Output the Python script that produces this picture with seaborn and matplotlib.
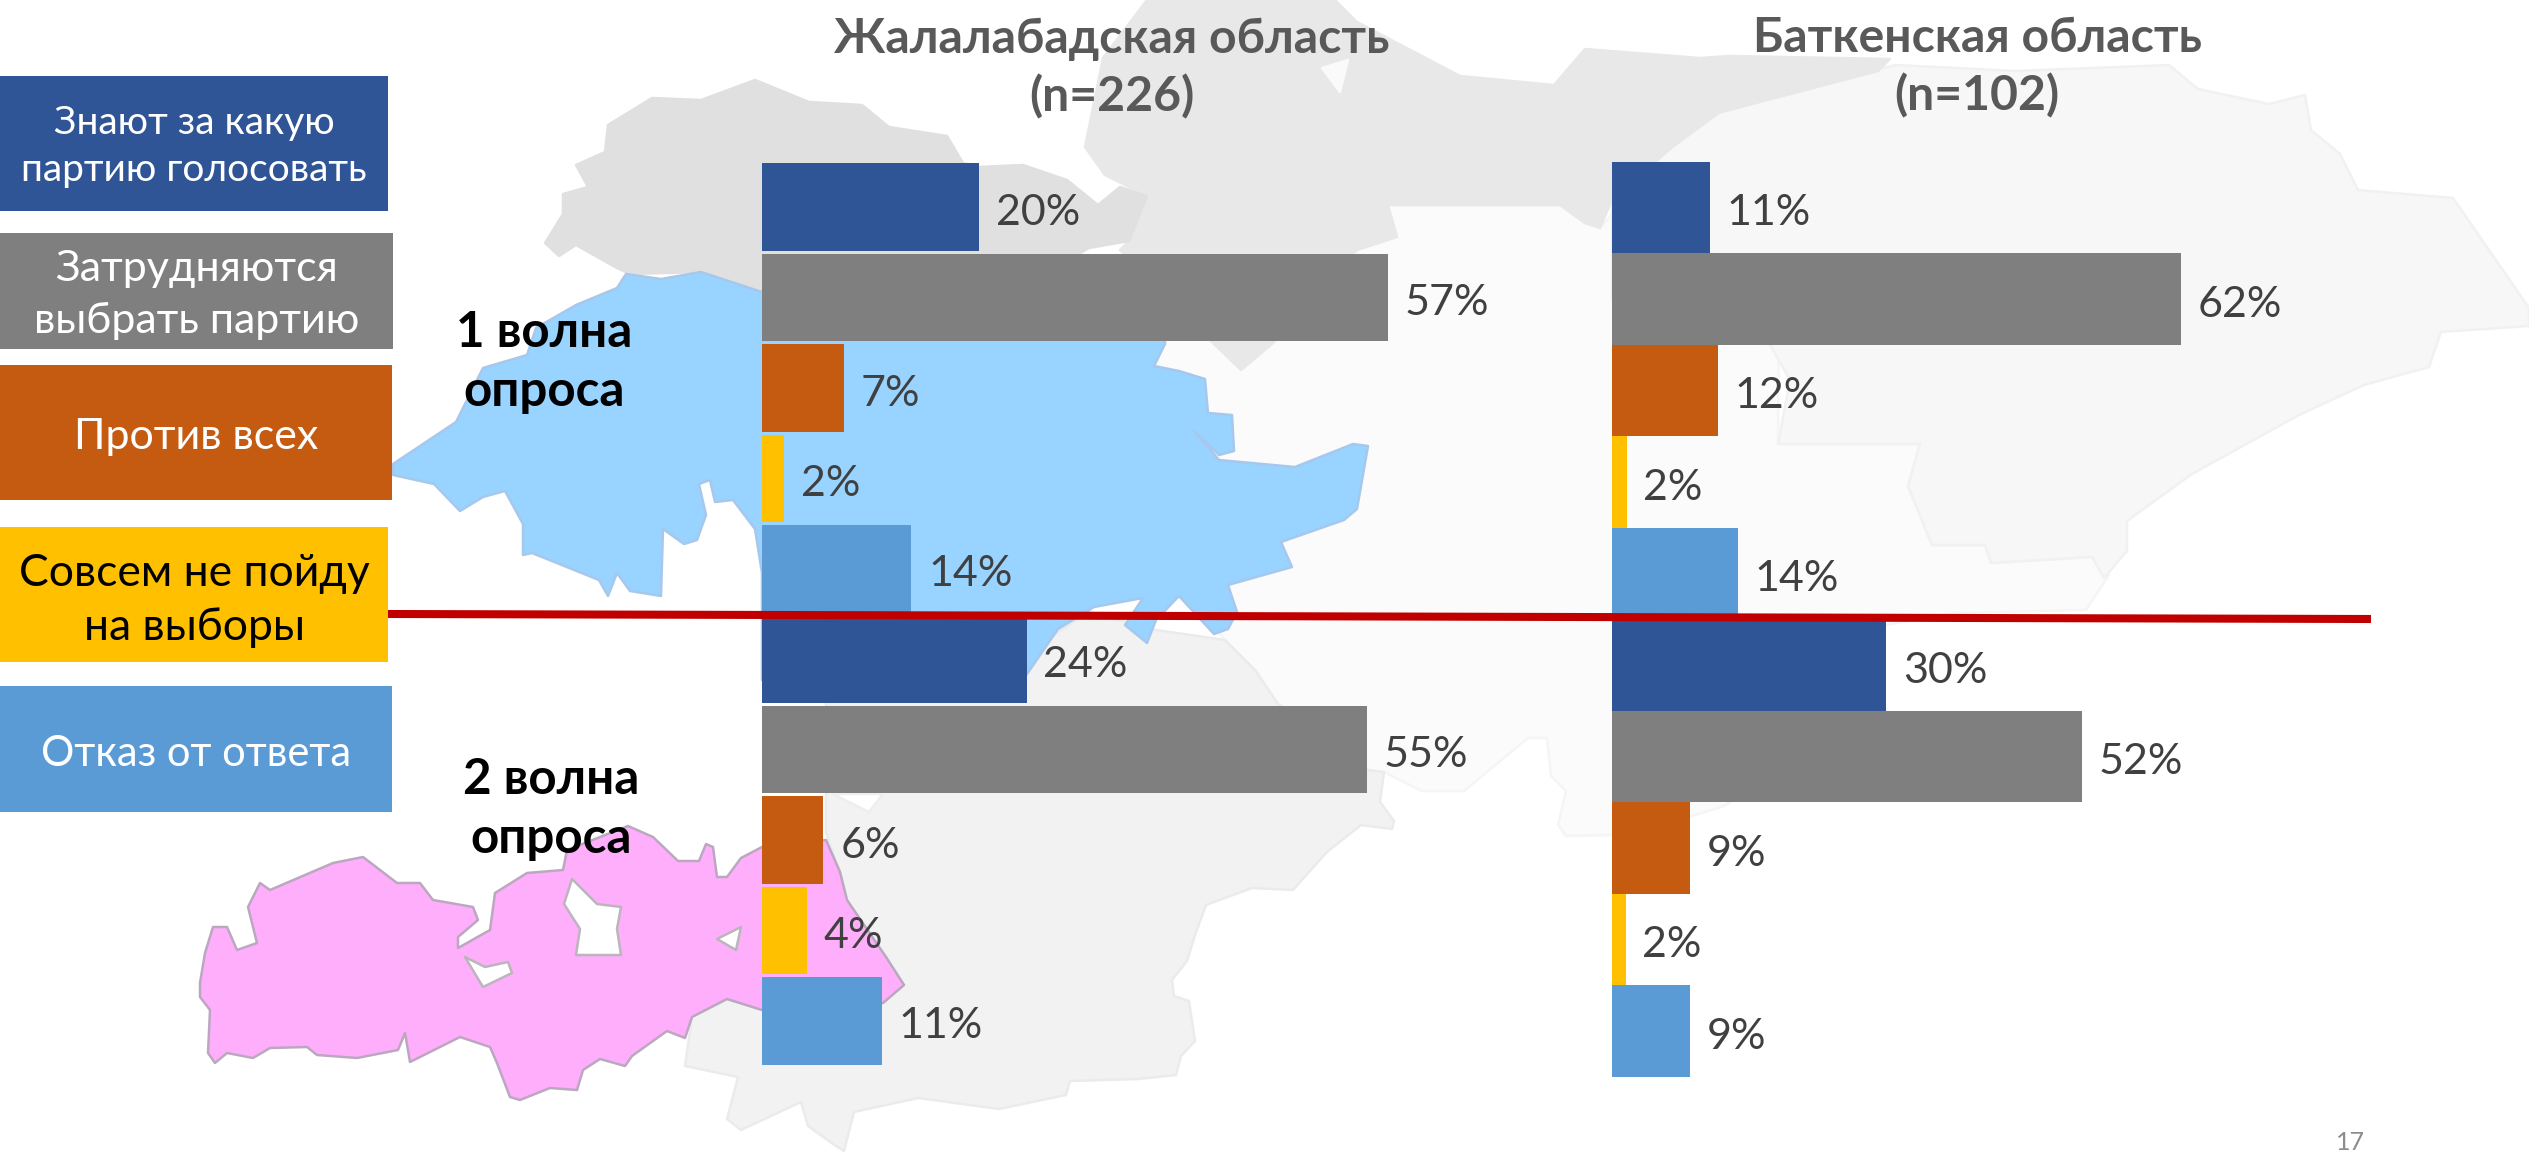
import matplotlib
matplotlib.use("Agg")
import matplotlib.pyplot as plt
import pandas as pd
import seaborn as sns
from matplotlib.patches import Polygon, Rectangle

W, H = 2529, 1154

answers = ["Знают за какую\nпартию голосовать", "Затрудняются\nвыбрать партию", "Против всех",
           "Совсем не пойду\nна выборы", "Отказ от ответа"]
answer_colors = ["#2F5597", "#7F7F7F", "#C55A11", "#FFC000", "#5B9BD5"]
answer_text_colors = ["white", "white", "white", "black", "white"]

jalal_wave1 = [19.8, 57.0, 7.5, 2.0, 13.6]
jalal_wave2 = [24.1, 55.1, 5.6, 4.1, 10.9]
batken_wave1 = [10.7, 62.0, 11.5, 1.6, 13.7]
batken_wave2 = [29.9, 51.2, 8.5, 1.5, 8.5]
jalal_labels = ["20%", "57%", "7%", "2%", "14%", "24%", "55%", "6%", "4%", "11%"]
batken_labels = ["11%", "62%", "12%", "2%", "14%", "30%", "52%", "9%", "2%", "9%"]

title_jalal = "Жалалабадская область\n(n=226)"
title_batken = "Баткенская область\n(n=102)"
wave_names = ["1 волна\nопроса", "2 волна\nопроса"]

# decorative background map outlines (pixel space)
talas = [(545,243),(563,214),(563,194),(588,187),(576,165),(605,152),(608,125),(652,98),(701,100),(755,80),(809,102),(862,105),(889,127),(947,136),(963,163),(978,167),(1023,165),(1067,180),(1098,205),(1120,187),(1147,196),(1129,241),(1089,248),(1000,300),(762,293),(701,272),(630,274),(617,268),(576,245),(559,256)]
chui = [(1085,147),(1103,58),(1147,0),(1335,0),(1357,22),(1460,76),(1554,85),(1585,49),(1700,58),(1730,56),(1890,59),(1878,71),(1718,113),(1671,148),(1612,200),(1600,228),(1585,223),(1560,205),(1536,205),(1388,205),(1397,237),(1357,250),(1272,344),(1241,370),(1214,344),(1120,250),(1129,241),(1147,196),(1105,175)]
naryn = [(1165,250),(1388,205),(1536,205),(1560,205),(1585,223),(1600,228),(1671,148),(1780,200),(1778,444),(1920,444),(1908,486),(1932,545),(1985,545),(1991,563),(2092,557),(2109,575),(2086,610),(1955,613),(1886,625),(1800,760),(1724,806),(1689,817),(1611,835),(1566,836),(1558,825),(1566,791),(1551,776),(1547,738),(1528,738),(1464,791),(1422,791),(1384,772),(1367,770),(1278,704),(1255,670),(1225,640),(1100,500)]
issyk = [(1671,148),(1736,101),(1896,65),(2015,71),(2169,65),(2198,89),(2269,104),(2305,95),(2311,130),(2340,154),(2358,190),(2453,198),(2529,308),(2529,326),(2441,332),(2429,367),(2364,385),(2299,415),(2192,474),(2127,521),(2127,551),(2104,578),(2092,557),(1991,563),(1985,545),(1932,545),(1908,486),(1920,444),(1778,444),(1790,380),(1770,345),(1700,300),(1612,300),(1612,200)]
osh = [(1049,638),(1089,612),(1156,630),(1225,640),(1255,670),(1278,704),(1367,770),(1384,772),(1380,802),(1394,821),(1392,829),(1361,825),(1327,852),(1293,890),(1252,888),(1206,905),(1195,935),(1187,961),(1172,980),(1174,996),(1189,1001),(1195,1041),(1181,1056),(1176,1075),(1138,1079),(1070,1081),(1066,1095),(999,1109),(918,1098),(854,1112),(844,1151),(833,1144),(808,1126),(801,1102),(741,1130),(727,1119),(738,1077),(685,1066),(692,1017),(727,999),(762,1010),(883,1003),(904,985),(886,957),(847,900),(840,872),(826,833),(826,700)]
osh_notch = [(833,794),(869,812),(883,794)]
chui_hole = [(1322,68),(1348,60),(1340,92)]
blue_region = [(393,464),(456,422),(483,368),(527,355),(536,328),(576,305),(617,288),(626,274),(661,279),(701,272),(762,292),(1165,300),(1165,344),(1154,366),(1179,371),(1205,379),(1208,413),(1232,415),(1234,451),(1219,455),(1194,431),(1219,460),(1295,467),(1353,444),(1368,446),(1357,509),(1344,520),(1281,542),(1292,567),(1228,585),(1237,612),(1228,629),(1214,634),(1179,596),(1156,620),(1147,643),(1125,625),(1143,598),(1094,607),(1058,629),(1027,674),(762,680),(762,573),(755,529),(733,500),(715,502),(710,480),(699,484),(706,515),(697,540),(684,544),(663,529),(661,596),(630,591),(617,573),(608,596),(599,580),(532,553),(523,555),(523,524),(505,491),(483,497),(460,511),(434,484),(393,475)]
pink_region = [(200,983),(205,953),(213,927),(227,927),(237,950),(257,943),(248,907),(260,883),(270,890),(333,863),(363,857),(397,883),(420,883),(433,900),(473,907),(478,920),(458,937),(458,948),(490,930),(495,893),(527,873),(563,870),(567,850),(628,826),(653,837),(678,861),(699,861),(706,844),(713,847),(717,877),(727,877),(741,858),(762,847),(826,840),(840,872),(847,900),(886,957),(904,985),(883,1003),(762,1010),(727,999),(692,1017),(685,1038),(667,1031),(632,1056),(625,1066),(600,1059),(583,1070),(577,1090),(550,1088),(520,1100),(510,1097),(497,1063),(490,1047),(460,1037),(410,1062),(405,1033),(398,1050),(357,1058),(317,1055),(307,1047),(270,1048),(253,1058),(227,1053),(215,1063),(208,1053),(210,1010),(200,997)]
pink_holes = [[(465,957),(483,987),(512,973),(508,962),(485,967)],
              [(572,879),(564,904),(580,929),(576,955),(621,955),(617,929),(621,907),(597,904)],
              [(717,939),(741,927),(736,950)]]

legend_boxes = [(0,76,388,135),(0,233,393,116),(0,365,392,135),(0,527,388,135),(0,686,392,126)]
legend_sizes = [28, 31, 31, 32, 30]
legend_spacing = [1.39, 1.45, 1.4, 1.41, 1.4]
legend_shift = [3, 4, 5, 6, 5]

sns.set_style("white")
plt.rcParams["font.family"] = ["Lato", "Open Sans", "DejaVu Sans"]

fig = plt.figure(figsize=(W/100, H/100), dpi=100, facecolor="white")


def px_axes(x0, y0, x1, y1, **kw):
    ax = fig.add_axes([x0/W, 1-y1/H, (x1-x0)/W, (y1-y0)/H], **kw)
    ax.patch.set_alpha(0)
    return ax


bg = px_axes(0, 0, W, H, zorder=0)
bg.set_xlim(0, W); bg.set_ylim(H, 0); bg.axis("off")
for pts, fc, ec in [(naryn, "#FBFBFB", "#F5F5F5"), (issyk, "#F7F7F7", "#F1F1F1"), (osh, "#F2F2F2", "#EBEBEB"),
                    (chui, "#E8E8E8", "#E8E8E8"), (talas, "#E0E0E0", "#E0E0E0"),
                    (osh_notch, "white", "#EEEEEE"), (chui_hole, "#FAFAFA", "#FAFAFA"),
                    (blue_region, "#99D3FF", "#A6C8EC"), (pink_region, "#FFAEFC", "#BBA8C0")]:
    bg.add_patch(Polygon(pts, closed=True, facecolor=fc, edgecolor=ec, lw=1.8, joinstyle="round"))
for hole in pink_holes:
    bg.add_patch(Polygon(hole, closed=True, facecolor="white", edgecolor="#BBB5BC", lw=1.8, joinstyle="round"))


def draw_bars(ax, wave1, wave2, labels, xscale, xwidth, bar_width):
    rows = [f"w1-{i}" for i in range(5)] + [f"w2-{i}" for i in range(5)]
    df = pd.DataFrame({"row": rows, "value": wave1 + wave2, "answer": answers * 2, "label": labels})
    sns.barplot(data=df, y="row", x="value", hue="answer", order=rows, hue_order=answers,
                palette=dict(zip(answers, answer_colors)), dodge=False, width=bar_width,
                saturation=1, legend=False, linewidth=0, ax=ax)
    ax.set_xlim(0, xwidth/xscale)
    ax.set_ylim(9.5, -0.5)
    for answer, cont in zip(answers, ax.containers):
        texts = ax.bar_label(cont, labels=df.loc[df.answer == answer, "label"].tolist(), padding=12,
                             fontsize=31, color="#404040")
        for t in texts:
            t.xyann = (t.xyann[0], -4)
    ax.axis("off")


ax1 = px_axes(762, 162, 1500, 1066, zorder=1)
draw_bars(ax1, jalal_wave1, jalal_wave2, jalal_labels, 10.98, 738, 0.97)
ax2 = px_axes(1612, 162, 2400, 1077, zorder=1)
draw_bars(ax2, batken_wave1, batken_wave2, batken_labels, 9.18, 788, 1.0)

top = px_axes(0, 0, W, H, zorder=2)
top.set_xlim(0, W); top.set_ylim(H, 0); top.axis("off")
for (x, y, w, h), name, c, tc, fs, ls, dy in zip(legend_boxes, answers, answer_colors, answer_text_colors,
                                                legend_sizes, legend_spacing, legend_shift):
    top.add_patch(Rectangle((x, y), w, h, facecolor=c, edgecolor="none"))
    top.text(x+w/2, y+h/2+dy, name, ha="center", va="center", color=tc, fontsize=fs, linespacing=ls)
top.plot([388, 2371], [614, 619], color="#C00000", lw=5.8, solid_capstyle="butt")
top.text(1112, 68, title_jalal, ha="center", va="center", color="#595959", fontsize=34.7, fontweight="bold", linespacing=1.36)
top.text(1977, 67, title_batken, ha="center", va="center", color="#595959", fontsize=34.7, fontweight="bold", linespacing=1.36)
top.text(544, 362, wave_names[0], ha="center", va="center", color="black", fontsize=35.6, fontweight="bold", linespacing=1.37)
top.text(551, 809, wave_names[1], ha="center", va="center", color="black", fontsize=35.6, fontweight="bold", linespacing=1.37)
top.text(2350, 1143, "17", ha="center", va="center", color="#8C8C8C", fontsize=18)

fig.savefig("out.png", dpi=100, facecolor="white")
